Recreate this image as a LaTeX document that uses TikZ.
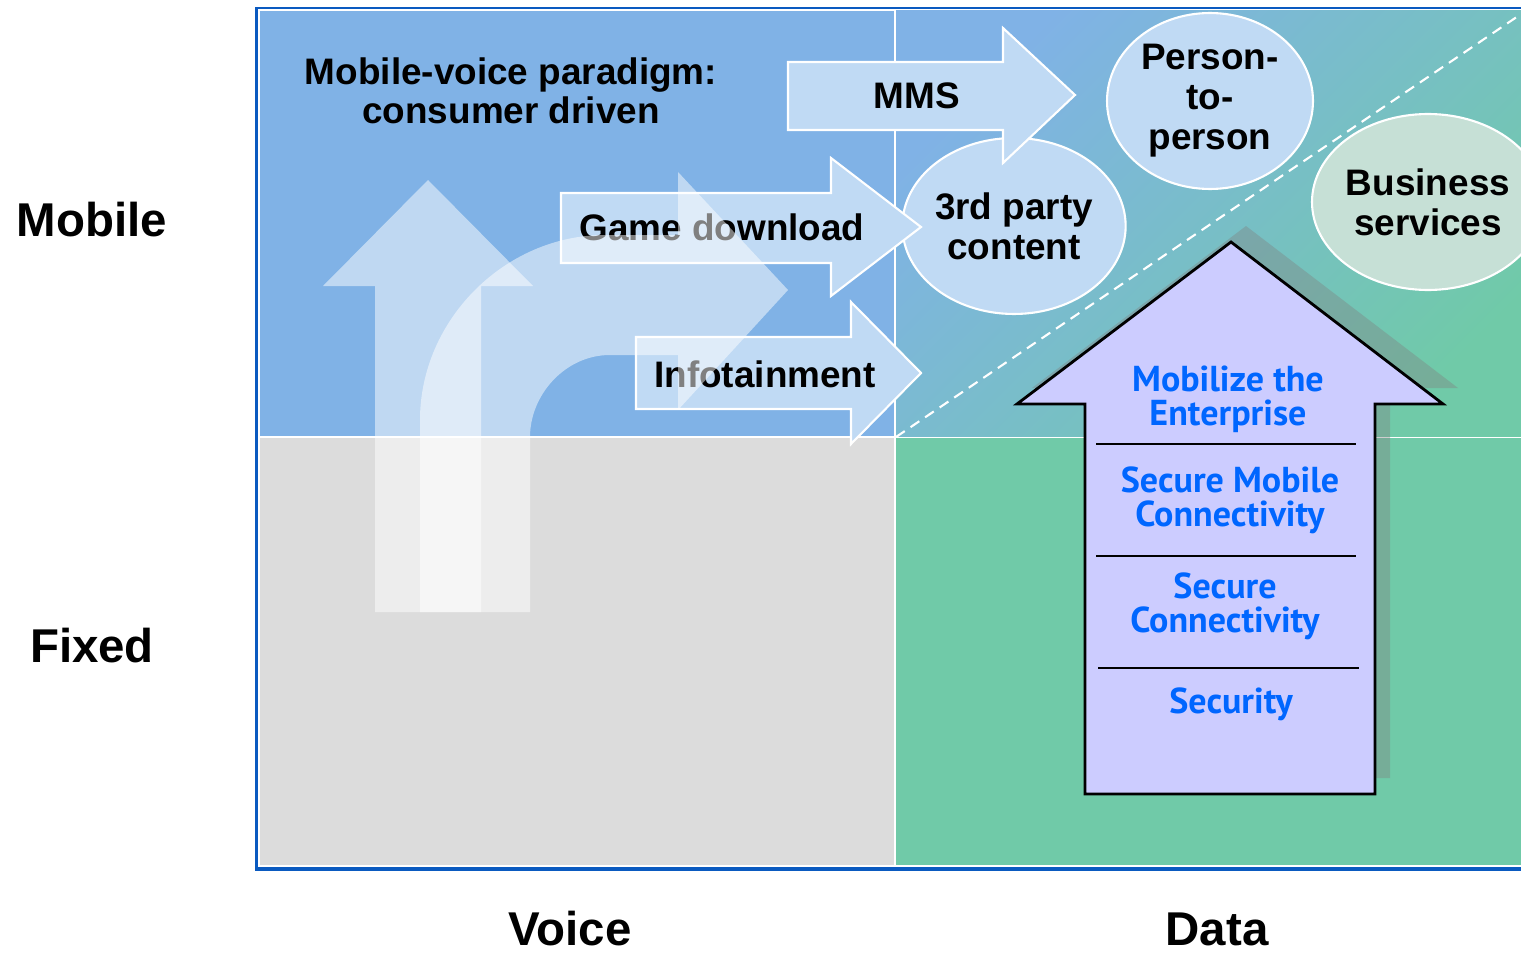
\documentclass[tikz,border=0pt]{standalone}
\usepackage{fontspec}
\setmainfont{Liberation Sans}
\newfontfamily\layerfont{PT Sans}
\usetikzlibrary{shapes.geometric}

\definecolor{skyblue}{HTML}{80B2E6}
\definecolor{paleblue}{HTML}{C0DAF4}
\definecolor{voicegray}{HTML}{DCDCDC}
\definecolor{datagreen}{HTML}{70CAA8}
\definecolor{bizgreen}{HTML}{C6E0D6}
\definecolor{lavender}{HTML}{CCCCFF}
\definecolor{layerblue}{HTML}{0066FF}
\definecolor{frameblue}{HTML}{0A5AC0}

\tikzset{
  axislabel/.style={font=\fontsize{27}{29}\selectfont\bfseries},
  blockarrow/.style={fill=paleblue, draw=white, line width=1.2pt},
  arrowtext/.style={font=\fontsize{21}{22}\selectfont\bfseries},
  bubble/.style={ellipse, draw=white, line width=1.2pt, fill=paleblue, inner sep=0pt,
    align=center, font=\fontsize{21}{22.7}\selectfont\bfseries},
  ghost/.style={fill=white, fill opacity=0.5},
  layer/.style={text=layerblue, align=center, font=\layerfont\fontsize{20.5}{19.5}\selectfont\bfseries},
  divider/.style={line width=1.2pt},
}

\begin{document}
\begin{tikzpicture}[x=0.02cm, y=-0.02cm]
\useasboundingbox (0,0) rectangle (1521,953);
\clip (0,0) rectangle (1521,953);

\fill[frameblue] (255,7) rectangle (1540,871);
\fill[white] (258,9) rectangle (1540,867);
\fill[skyblue] (260,11) rectangle (894,436);
\shade[top color=skyblue, bottom color=datagreen, shading angle=45] (896,11) rectangle (1540,436);
\fill[voicegray] (260,438) rectangle (894,865);
\fill[datagreen] (896,438) rectangle (1540,865);

\coordinate (split) at (896,437);
\coordinate (corner) at (1530,8);
\draw[white, line width=1.2pt, dash pattern=on 6pt off 4pt] (split) -- (corner);

\node[axislabel] (mobile) at (92,220) {Mobile};
\node[axislabel] (fixed) at (92,646) {Fixed};
\node[axislabel, anchor=base, inner sep=0pt] (voice) at (570,945) {Voice};
\node[axislabel, anchor=base, inner sep=0pt] (data) at (1217,945) {Data};

\node[arrowtext, align=center, font=\fontsize{21}{22.5}\selectfont\bfseries] (paradigm) at (511,91) {Mobile-voice paradigm:\\consumer driven};

\node[bubble, minimum width=4.12cm, minimum height=3.52cm] (p2p) at (1210,101) {Person-\\to-\\person};
\node[bubble, minimum width=4.2cm, minimum height=3.52cm] (third) at (1014,226) {3rd party\\content};
\node[bubble, fill=bizgreen, minimum width=4.28cm, minimum height=3.52cm] (business) at (1428,202) {Business\\services};

\draw[blockarrow] (788,62) -- (1003,62) -- (1003,28) -- (1075,95) -- (1003,163) -- (1003,130) -- (788,130) -- cycle;
\node[arrowtext] (mms) at (917,96) {MMS};

\draw[blockarrow] (561,193) -- (831,193) -- (831,158) -- (921,227) -- (831,296) -- (831,263) -- (561,263) -- cycle;
\node[arrowtext] (game) at (722,227) {Game download};

\draw[blockarrow] (636,337) -- (851,337) -- (851,302) -- (921,373) -- (851,444) -- (851,409) -- (636,409) -- cycle;
\node[arrowtext] (info) at (765,374) {Infotainment};

\fill[ghost] (428,180) -- (533,286) -- (481,286) -- (481,612) -- (375,612) -- (375,286) -- (323,286) -- cycle;
\fill[ghost] (420,612) -- (420,420) .. controls (420,320) and (505,235) .. (605,235) -- (678,235) -- (678,172)
  -- (788,290) -- (678,410) -- (678,355) -- (610,355) .. controls (565,355) and (530,395) .. (530,437) -- (530,612) -- cycle;

\fill[gray, fill opacity=0.38, shift={(15,-16)}] (1231,242) -- (1443,404) -- (1375,404) -- (1375,794) -- (1085,794) -- (1085,404) -- (1017,404) -- cycle;
\draw[fill=lavender, line width=1.6pt] (1231,242) -- (1443,404) -- (1375,404) -- (1375,794) -- (1085,794) -- (1085,404) -- (1017,404) -- cycle;

\draw[divider] (1096,444) -- (1356,444);
\draw[divider] (1096,556) -- (1356,556);
\draw[divider] (1098,668) -- (1359,668);

\node[layer] (enterprise) at (1228,399) {Mobilize the\\Enterprise};
\node[layer] (mobileconn) at (1230,500) {Secure Mobile\\Connectivity};
\node[layer] (conn) at (1225,606) {Secure\\Connectivity};
\node[layer] (security) at (1231,704) {Security};
\end{tikzpicture}
\end{document}
